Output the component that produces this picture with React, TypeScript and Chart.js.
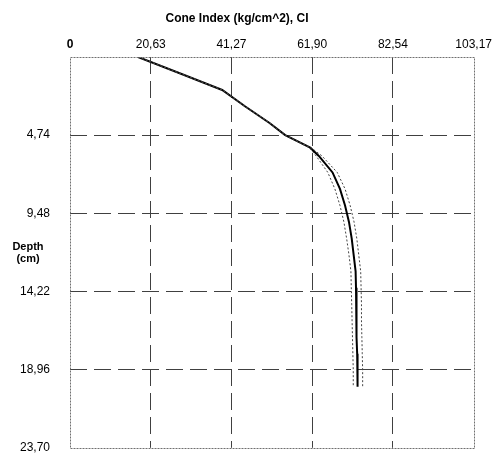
import React, { useEffect, useRef } from "react";
import { Chart, registerables } from "chart.js";

Chart.register(...registerables);

const depth = [0, 1, 2, 3, 4, 4.74, 5.5, 6, 7, 8, 9, 10, 11, 12, 13, 14, 15, 16, 17, 18, 19, 20];
const ciMean = [17.4, 28.2, 38.9, 44.8, 51.0, 55.0, 61.4, 63.6, 67.1, 69.0, 70.3, 71.3, 72.0, 72.5, 73.0, 73.1, 73.2, 73.2, 73.3, 73.4, 73.5, 73.5];
const ciUpper = [17.4, 28.2, 38.9, 44.8, 51.0, 55.0, 61.6, 64.4, 68.3, 70.3, 71.6, 72.6, 73.3, 73.8, 74.3, 74.4, 74.5, 74.5, 74.6, 74.7, 74.8, 74.8];
const ciLower = [17.4, 28.2, 38.9, 44.8, 51.0, 55.0, 61.2, 62.9, 65.9, 67.7, 69.0, 70.0, 70.7, 71.3, 71.8, 71.9, 72.0, 72.1, 72.2, 72.3, 72.4, 72.4];

const xTicks = [0, 20.634, 41.268, 61.902, 82.536, 103.17];
const xTickLabels = ["0", "20,63", "41,27", "61,90", "82,54", "103,17"];
const yTicks = [0, 4.74, 9.48, 14.22, 18.96, 23.7];
const yTickLabels = ["", "4,74", "9,48", "14,22", "18,96", "23,70"];

const FONT = "'Liberation Sans', Arial, sans-serif";

const framePlugin = {
  id: "frameAndYTitle",
  afterDatasetsDraw(chart: any) {
    const { ctx, chartArea } = chart;
    ctx.save();
    ctx.strokeStyle = "#707070";
    ctx.lineWidth = 1;
    ctx.setLineDash([2, 1]);
    ctx.strokeRect(
      Math.round(chartArea.left) + 0.5,
      Math.round(chartArea.top) + 0.5,
      Math.round(chartArea.right - chartArea.left),
      Math.round(chartArea.bottom - chartArea.top)
    );
    ctx.setLineDash([]);
    ctx.fillStyle = "#000";
    ctx.font = `bold 11px ${FONT}`;
    ctx.textAlign = "center";
    ctx.textBaseline = "middle";
    ctx.fillText("Depth", 28, 247);
    ctx.fillText("(cm)", 28, 259);
    ctx.restore();
  },
};

export default function App() {
  const ref = useRef<HTMLCanvasElement | null>(null);

  useEffect(() => {
    document.body.style.margin = "0";
    const canvas = ref.current;
    if (!canvas) return;
    const mk = (label: string, data: number[], dashed: boolean, width: number, color: string) => ({
      label,
      data: depth.map((d, i) => ({ x: data[i], y: d })),
      showLine: true,
      borderColor: color,
      borderWidth: width,
      borderDash: dashed ? [2, 2] : [],
      pointRadius: 0,
      fill: false,
      tension: 0,
    });
    const gridColor = (ctx: any) => {
      const v = ctx.tick?.value;
      if (v === undefined) return "transparent";
      const max = ctx.scale.max;
      if (Math.abs(v) < 1e-6 || Math.abs(v - max) < 1e-6) return "transparent";
      return "#404040";
    };
    const chart = new Chart(canvas, {
      type: "scatter",
      data: {
        datasets: [
          mk("Lower", ciLower, true, 1, "#444"),
          mk("Upper", ciUpper, true, 1, "#444"),
          mk("Mean", ciMean, false, 2, "#000"),
        ],
      },
      plugins: [framePlugin],
      options: {
        animation: false,
        responsive: false,
        maintainAspectRatio: false,
        layout: { padding: { left: 0, right: 23, top: 0, bottom: 7 } },
        plugins: {
          legend: { display: false },
          tooltip: { enabled: false },
          title: {
            display: true,
            text: "Cone Index (kg/cm^2), CI",
            color: "#000",
            font: { family: FONT, size: 12, weight: "bold" },
            padding: { top: 11, bottom: 0 },
          },
        },
        scales: {
          x: {
            type: "linear",
            position: "top",
            min: 0,
            max: 103.17,
            afterBuildTicks: (scale: any) => {
              scale.ticks = xTicks.map((v) => ({ value: v }));
            },
            afterFit: (scale: any) => {
              scale.height = 31.6;
            },
            ticks: {
              color: "#000",
              padding: 5,
              maxRotation: 0,
              autoSkip: false,
              font: (ctx: any) => ({
                family: FONT,
                size: 12,
                weight: ctx.index === 0 ? "bold" : "normal",
              }),
              callback: (_v: any, i: number) => xTickLabels[i],
            },
            grid: {
              color: gridColor,
              lineWidth: 1,
              drawTicks: false,
            },
            border: { display: false, dash: [17, 7] },
          },
          y: {
            type: "linear",
            reverse: true,
            min: 0,
            max: 23.7,
            afterBuildTicks: (scale: any) => {
              scale.ticks = yTicks.map((v) => ({ value: v }));
            },
            afterFit: (scale: any) => {
              scale.width = 70;
            },
            ticks: {
              color: "#000",
              padding: 0,
              autoSkip: false,
              font: { family: FONT, size: 12 },
              callback: (_v: any, i: number) => yTickLabels[i],
            },
            grid: {
              color: gridColor,
              lineWidth: 1,
              drawTicks: true,
              tickLength: 20,
              tickColor: "transparent",
            },
            border: { display: false, dash: [17, 7] },
          },
        },
      },
    } as any);
    return () => chart.destroy();
  }, []);

  return (
    <div style={{ position: "relative", width: 497, height: 455, background: "#fff" }}>
      <canvas ref={ref} width={497} height={455} style={{ width: 497, height: 455 }} />
    </div>
  );
}
